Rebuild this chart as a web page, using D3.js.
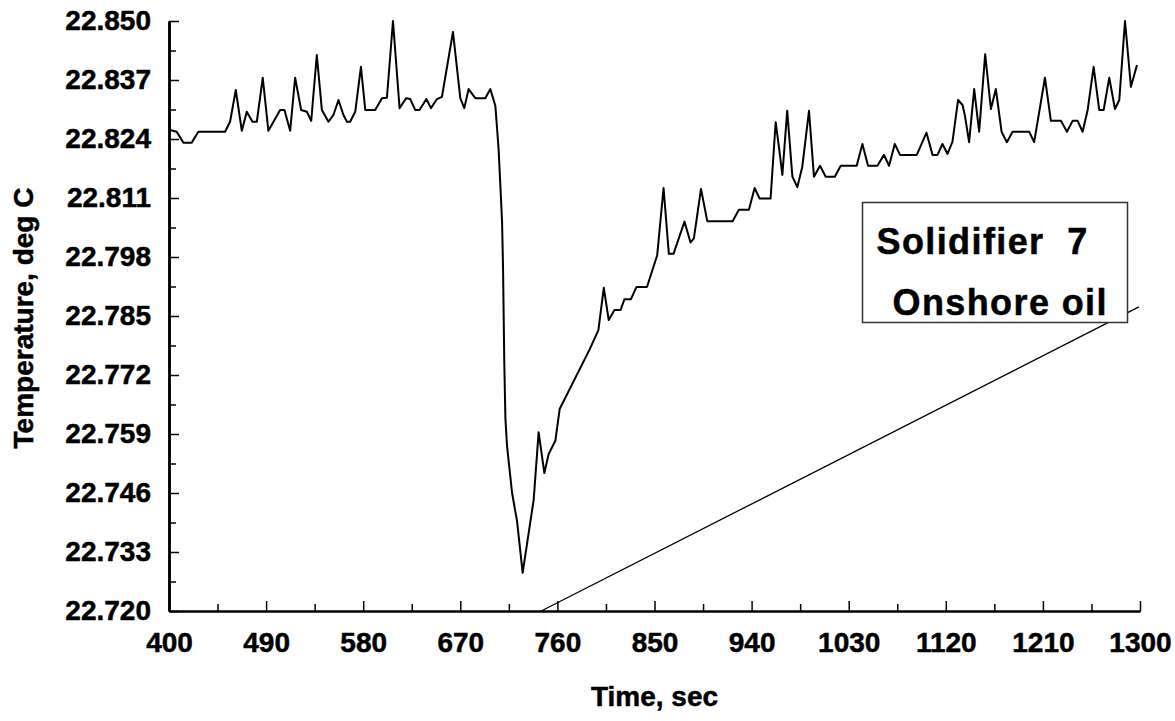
<!DOCTYPE html>
<html>
<head>
<meta charset="utf-8">
<script src="https://cdn.jsdelivr.net/npm/d3@7"></script>
<style>
  body { margin: 0; background: #fff; }
  text { font-family: "Liberation Sans", Arial, sans-serif; font-weight: bold; stroke: #000; stroke-width: 0.5px; }
</style>
</head>
<body>
<div id="container"></div>
<script>
var svgWidth = 1175;
var svgHeight = 721;
var margin = {top: 21, right: 35, bottom: 110, left: 169};

// measured trace: time (s) and temperature (deg C)
var timeSec = [400, 400.9, 407.1, 413.3, 421.1, 427.2, 452.0, 456.6, 461.9, 467.5,
  472.1, 477.3, 481.4, 486.9, 492.1, 503.0, 507.0, 512.3, 516.9, 522.5,
  527.8, 531.8, 537.0, 541.7, 547.8, 552.4, 557.1, 561.7, 564.9, 567.9,
  572.6, 577.9, 581.9, 591.1, 597.4, 602.0, 607.6, 613.7, 619.9, 623.6,
  628.2, 632.2, 638.5, 642.8, 648.4, 653.0, 663.2, 670.0, 673.7, 677.7,
  683.9, 693.2, 697.8, 702.5, 705.5, 708.7, 709.6, 710.8, 711.8, 713.3,
  718.0, 722.6, 727.8, 738.0, 742.6, 747.9, 751.9, 758.1, 762.1, 790.0,
  798.0, 803.0, 807.6, 812.9, 818.5, 822.2, 828.2, 833.3, 843.0, 852.5,
  858.4, 863.3, 867.6, 877.8, 883.4, 886.5, 893.1, 898.9, 922.4, 928.2,
  937.5, 942.8, 947.4, 957.6, 962.3, 965.3, 968.5, 973.0, 977.8, 982.4,
  987.0, 993.2, 997.8, 1003.4, 1008.7, 1017.1, 1022.6, 1037.4, 1042.7, 1047.9,
  1056.6, 1062.7, 1067.4, 1072.7, 1077.6, 1093.1, 1102.1, 1107.7, 1112.3, 1116.9,
  1121.6, 1126.2, 1131.4, 1135.5, 1137.6, 1141.6, 1146.3, 1150.9, 1156.5, 1161.8,
  1166.4, 1171.7, 1176.6, 1181.9, 1197.3, 1201.9, 1211.9, 1217.4, 1226.7, 1232.3,
  1237.5, 1242.2, 1246.8, 1251.5, 1257.0, 1262.2, 1266.3, 1271.5, 1276.8, 1280.8,
  1286.1, 1291.6, 1297.2];

var tempDegC = [22.8286, 22.8260, 22.8256, 22.8232, 22.8232, 22.8256, 22.8256, 22.8278, 22.8348, 22.8258,
  22.8300, 22.8278, 22.8278, 22.8375, 22.8258, 22.8304, 22.8304, 22.8258, 22.8375, 22.8304,
  22.8300, 22.8280, 22.8425, 22.8304, 22.8278, 22.8293, 22.8326, 22.8293, 22.8278, 22.8278,
  22.8300, 22.8399, 22.8304, 22.8304, 22.8330, 22.8331, 22.8500, 22.8308, 22.8330, 22.8328,
  22.8304, 22.8304, 22.8328, 22.8308, 22.8328, 22.8333, 22.8476, 22.8330, 22.8308, 22.8350,
  22.8330, 22.8330, 22.8350, 22.8313, 22.8218, 22.8059, 22.7958, 22.7744, 22.7625, 22.7564,
  22.7460, 22.7398, 22.7284, 22.7445, 22.7594, 22.7504, 22.7546, 22.7575, 22.7645, 22.7777,
  22.7819, 22.7912, 22.7841, 22.7863, 22.7863, 22.7887, 22.7887, 22.7914, 22.7914, 22.7984,
  22.8132, 22.7987, 22.7987, 22.8058, 22.8012, 22.8021, 22.8130, 22.8059, 22.8059, 22.8084,
  22.8084, 22.8132, 22.8109, 22.8109, 22.8277, 22.8223, 22.8161, 22.8302, 22.8157, 22.8134,
  22.8179, 22.8302, 22.8157, 22.8181, 22.8157, 22.8157, 22.8181, 22.8181, 22.8229, 22.8181,
  22.8181, 22.8205, 22.8181, 22.8229, 22.8205, 22.8205, 22.8254, 22.8205, 22.8205, 22.8229,
  22.8207, 22.8234, 22.8326, 22.8315, 22.8293, 22.8233, 22.8350, 22.8256, 22.8427, 22.8306,
  22.8350, 22.8256, 22.8233, 22.8256, 22.8256, 22.8233, 22.8375, 22.8280, 22.8280, 22.8256,
  22.8280, 22.8280, 22.8256, 22.8304, 22.8399, 22.8304, 22.8304, 22.8375, 22.8306, 22.8326,
  22.8500, 22.8355, 22.8403];

// straight reference line
var refTime = [745, 1299];
var refTemp = [22.720, 22.787];

var yTickValues = [22.720, 22.733, 22.746, 22.759, 22.772, 22.785, 22.798, 22.811, 22.824, 22.837, 22.850];
var xTickValues = [400, 490, 580, 670, 760, 850, 940, 1030, 1120, 1210, 1300];
var legendLines = ["Solidifier\u00a0\u00a07", "Onshore oil"];

var plotW = svgWidth - margin.left - margin.right;
var plotH = svgHeight - margin.top - margin.bottom;

var svg = d3.select('#container').append('svg')
    .attr("width", svgWidth)
    .attr("height", svgHeight);

var g = svg.append('g')
    .attr("transform", "translate(" + margin.left + "," + margin.top + ")");

var x = d3.scaleLinear().domain([400, 1300]).range([0, plotW]);
var y = d3.scaleLinear().domain([22.720, 22.850]).range([plotH, 0]);

// minor ticks halfway between labelled ones
var yMinor = d3.pairs(yTickValues).map(function (p) { return (p[0] + p[1]) / 2; });
var xMinor = d3.pairs(xTickValues).map(function (p) { return (p[0] + p[1]) / 2; });

function styleAxis(sel, width) {
    sel.attr("font-family", null).attr("font-size", null);
    sel.select(".domain").attr("stroke", "#000").attr("stroke-width", width);
    sel.selectAll(".tick line").attr("stroke", "#000").attr("stroke-width", 1.5);
    sel.selectAll(".tick text").attr("fill", "#000").style("font-size", "28px");
}

g.append('g')
    .call(d3.axisLeft(y).tickValues(yMinor).tickSize(-7).tickSizeOuter(0).tickFormat(""))
    .call(styleAxis, 2.5);

g.append('g')
    .call(d3.axisLeft(y).tickValues(yTickValues).tickSize(-10).tickSizeOuter(0)
        .tickPadding(18).tickFormat(d3.format(".3f")))
    .call(styleAxis, 2.5);

g.append('g')
    .attr("transform", "translate(0," + plotH + ")")
    .call(d3.axisBottom(x).tickValues(xMinor).tickSize(-7).tickSizeOuter(0).tickFormat(""))
    .call(styleAxis, 2);

g.append('g')
    .attr("transform", "translate(0," + plotH + ")")
    .call(d3.axisBottom(x).tickValues(xTickValues).tickSize(-10).tickSizeOuter(0)
        .tickPadding(21).tickFormat(d3.format("d")))
    .call(styleAxis, 2);

// axis titles
svg.append('text')
    .attr("transform", "translate(33," + (margin.top + plotH / 2 + 2) + ") rotate(-90)")
    .attr("text-anchor", "middle")
    .style("font-size", "28px")
    .text("Temperature, deg C");

svg.append('text')
    .attr("x", margin.left + plotW / 2)
    .attr("y", 706)
    .attr("text-anchor", "middle")
    .style("font-size", "28px")
    .text("Time, sec");

var line = d3.line()
    .x(function (d) { return x(d[0]); })
    .y(function (d) { return y(d[1]); });

// label box
var box = svg.append('g').attr("transform", "translate(862.5,202.5)");
box.append('rect')
    .attr("width", 265)
    .attr("height", 120)
    .style("fill", "#fff")
    .style("stroke", "#333")
    .style("stroke-width", 1.5);

box.selectAll('text.legend').data(legendLines)
    .enter().append('text')
    .attr("class", "legend")
    .attr("x", function (d, i) { return i === 0 ? 14 : 30; })
    .attr("y", function (d, i) { return i === 0 ? 51 : 112; })
    .style("font-size", "36px")
    .style("letter-spacing", "1.4px")
    .text(function (d) { return d; });

// the reference line runs over the box corner
g.append('path')
    .datum(d3.zip(refTime, refTemp))
    .attr("d", line)
    .style("fill", "none")
    .style("stroke", "#000")
    .style("stroke-width", 1.3);

g.append('path')
    .datum(d3.zip(timeSec, tempDegC))
    .attr("d", line)
    .style("fill", "none")
    .style("stroke", "#000")
    .style("stroke-width", 2)
    .style("stroke-linejoin", "round");
</script>
</body>
</html>
